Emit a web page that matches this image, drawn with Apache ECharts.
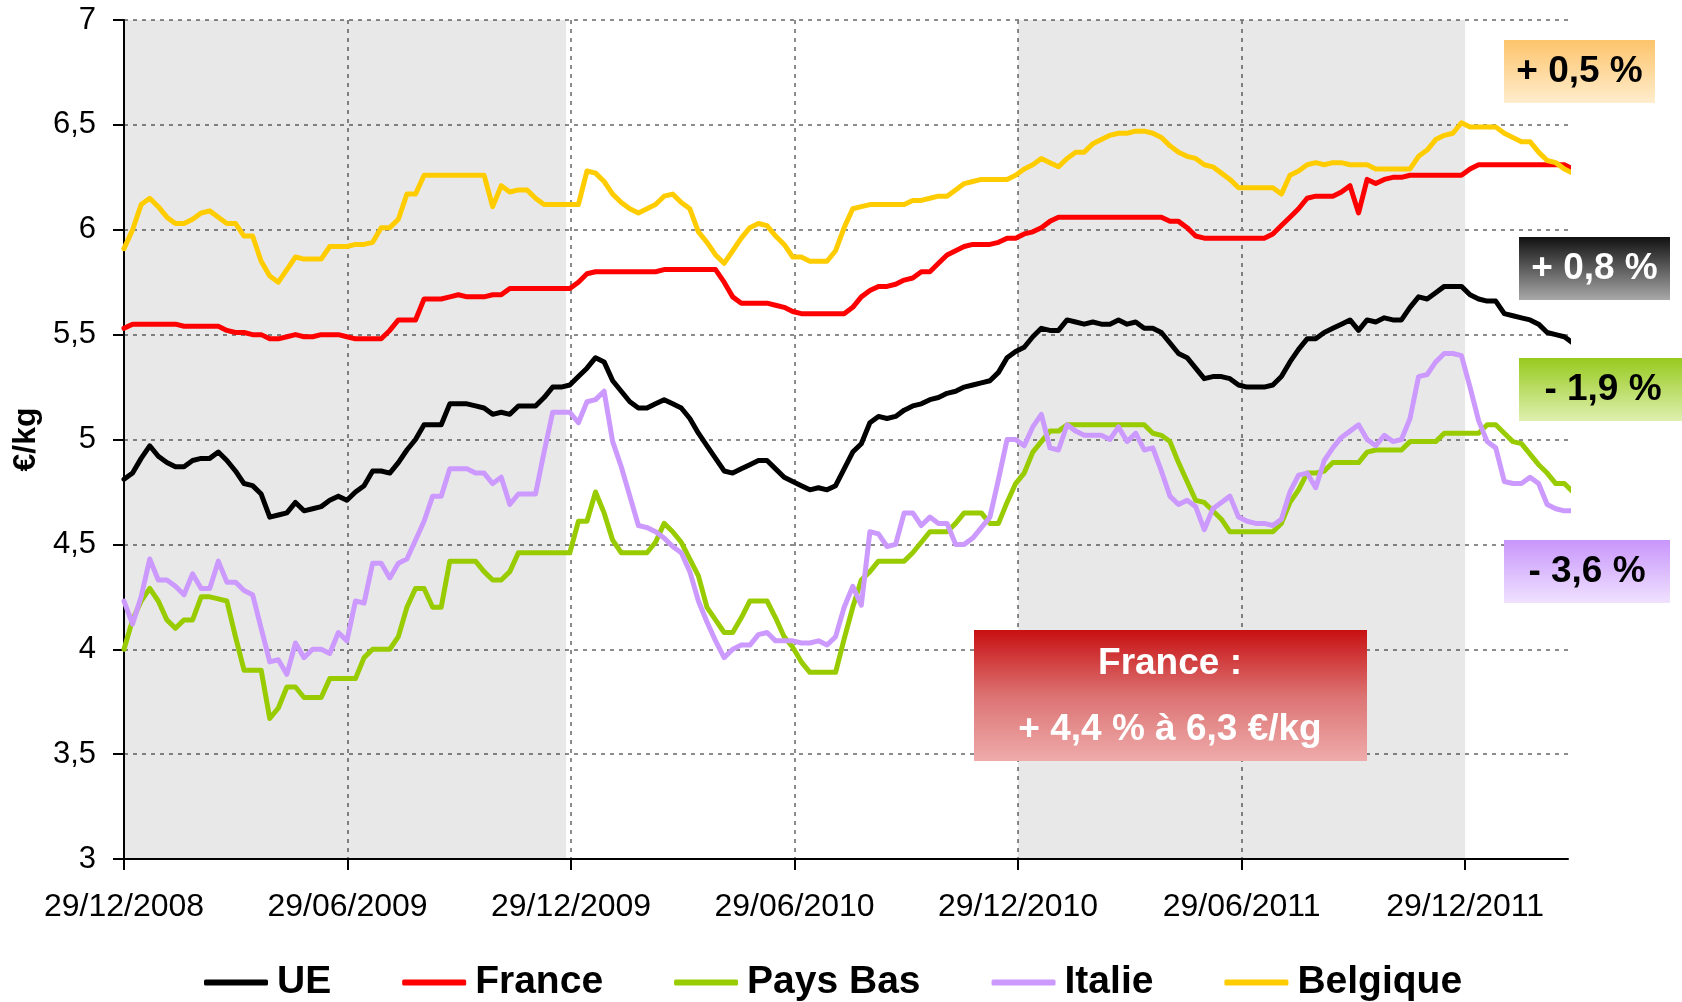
<!DOCTYPE html>
<html>
<head>
<meta charset="utf-8">
<title>Prix au kg</title>
<script src="https://cdn.jsdelivr.net/npm/echarts@6.0.0/dist/echarts.min.js"></script>
<style>
  html, body { margin: 0; padding: 0; background: #fff; }
  #container-main { width: 1682px; height: 1002px; }
</style>
</head>
<body>
<div id="container-main"></div>
<script>
// weekly prices in €/kg, first week = 29/12/2008
var ue = [
  4.81,4.84,4.91,4.97,4.92,4.89,4.87,4.87,4.90,4.91,
  4.91,4.94,4.90,4.85,4.79,4.78,4.74,4.63,4.64,4.65,
  4.70,4.66,4.67,4.68,4.71,4.73,4.71,4.75,4.78,4.85,
  4.85,4.84,4.89,4.95,5.00,5.07,5.07,5.07,5.17,5.17,
  5.17,5.16,5.15,5.12,5.13,5.12,5.16,5.16,5.16,5.20,
  5.25,5.25,5.26,5.30,5.34,5.39,5.37,5.28,5.23,5.18,
  5.15,5.15,5.17,5.19,5.17,5.15,5.10,5.03,4.97,4.91,
  4.85,4.84,4.86,4.88,4.90,4.90,4.86,4.82,4.80,4.78,
  4.76,4.77,4.76,4.78,4.86,4.94,4.98,5.08,5.11,5.10,
  5.11,5.14,5.16,5.17,5.19,5.20,5.22,5.23,5.25,5.26,
  5.27,5.28,5.32,5.39,5.42,5.44,5.49,5.53,5.52,5.52,
  5.57,5.56,5.55,5.56,5.55,5.55,5.57,5.55,5.56,5.53,
  5.53,5.51,5.46,5.41,5.39,5.34,5.29,5.30,5.30,5.29,
  5.26,5.25,5.25,5.25,5.26,5.30,5.37,5.43,5.48,5.48,
  5.51,5.53,5.55,5.57,5.52,5.57,5.56,5.58,5.57,5.57,
  5.63,5.68,5.67,5.70,5.73,5.73,5.73,5.69,5.67,5.66,
  5.66,5.60,5.59,5.58,5.57,5.55,5.51,5.50,5.49,5.46
];
var france = [
  5.53,5.55,5.55,5.55,5.55,5.55,5.55,5.54,5.54,5.54,
  5.54,5.54,5.52,5.51,5.51,5.50,5.50,5.48,5.48,5.49,
  5.50,5.49,5.49,5.50,5.50,5.50,5.49,5.48,5.48,5.48,
  5.48,5.52,5.57,5.57,5.57,5.67,5.67,5.67,5.68,5.69,
  5.68,5.68,5.68,5.69,5.69,5.72,5.72,5.72,5.72,5.72,
  5.72,5.72,5.72,5.75,5.79,5.80,5.80,5.80,5.80,5.80,
  5.80,5.80,5.80,5.81,5.81,5.81,5.81,5.81,5.81,5.81,
  5.75,5.68,5.65,5.65,5.65,5.65,5.64,5.63,5.61,5.60,
  5.60,5.60,5.60,5.60,5.60,5.63,5.68,5.71,5.73,5.73,
  5.74,5.76,5.77,5.80,5.80,5.84,5.88,5.90,5.92,5.93,
  5.93,5.93,5.94,5.96,5.96,5.98,5.99,6.01,6.04,6.06,
  6.06,6.06,6.06,6.06,6.06,6.06,6.06,6.06,6.06,6.06,
  6.06,6.06,6.04,6.04,6.01,5.97,5.96,5.96,5.96,5.96,
  5.96,5.96,5.96,5.96,5.98,6.02,6.06,6.10,6.15,6.16,
  6.16,6.16,6.18,6.21,6.08,6.24,6.22,6.24,6.25,6.25,
  6.26,6.26,6.26,6.26,6.26,6.26,6.26,6.29,6.31,6.31,
  6.31,6.31,6.31,6.31,6.31,6.31,6.31,6.31,6.31,6.29
];
var paysBas = [
  4.00,4.14,4.23,4.29,4.23,4.14,4.10,4.14,4.14,4.25,
  4.25,4.24,4.23,4.06,3.90,3.90,3.90,3.67,3.72,3.82,
  3.82,3.77,3.77,3.77,3.86,3.86,3.86,3.86,3.96,4.00,
  4.00,4.00,4.06,4.20,4.29,4.29,4.20,4.20,4.42,4.42,
  4.42,4.42,4.37,4.33,4.33,4.37,4.46,4.46,4.46,4.46,
  4.46,4.46,4.46,4.61,4.61,4.75,4.65,4.52,4.46,4.46,
  4.46,4.46,4.51,4.60,4.56,4.51,4.43,4.35,4.20,4.14,
  4.08,4.08,4.15,4.23,4.23,4.23,4.15,4.06,4.01,3.94,
  3.89,3.89,3.89,3.89,4.05,4.20,4.33,4.37,4.42,4.42,
  4.42,4.42,4.46,4.51,4.56,4.56,4.56,4.60,4.65,4.65,
  4.65,4.60,4.60,4.70,4.79,4.84,4.94,4.99,5.04,5.04,
  5.07,5.07,5.07,5.07,5.07,5.07,5.07,5.07,5.07,5.07,
  5.03,5.02,4.99,4.89,4.80,4.71,4.70,4.66,4.62,4.56,
  4.56,4.56,4.56,4.56,4.56,4.60,4.70,4.76,4.84,4.84,
  4.85,4.89,4.89,4.89,4.89,4.94,4.95,4.95,4.95,4.95,
  4.99,4.99,4.99,4.99,5.03,5.03,5.03,5.03,5.03,5.07,
  5.07,5.03,4.99,4.98,4.93,4.88,4.84,4.79,4.79,4.75
];
var italie = [
  4.23,4.12,4.25,4.43,4.33,4.33,4.30,4.26,4.36,4.29,
  4.29,4.42,4.32,4.32,4.28,4.26,4.10,3.94,3.95,3.88,
  4.03,3.96,4.00,4.00,3.98,4.08,4.04,4.23,4.22,4.41,
  4.41,4.34,4.41,4.43,4.52,4.61,4.73,4.73,4.86,4.86,
  4.86,4.84,4.84,4.79,4.82,4.69,4.74,4.74,4.74,4.94,
  5.13,5.13,5.13,5.08,5.18,5.19,5.23,4.99,4.87,4.73,
  4.59,4.58,4.56,4.53,4.49,4.46,4.37,4.23,4.13,4.04,
  3.96,4.00,4.02,4.02,4.07,4.08,4.04,4.04,4.04,4.03,
  4.03,4.04,4.02,4.06,4.20,4.30,4.21,4.56,4.55,4.49,
  4.50,4.65,4.65,4.59,4.63,4.60,4.60,4.50,4.50,4.53,
  4.58,4.63,4.81,5.00,5.00,4.97,5.06,5.12,4.96,4.95,
  5.07,5.04,5.02,5.02,5.02,5.00,5.06,4.99,5.03,4.95,
  4.96,4.85,4.73,4.69,4.71,4.68,4.57,4.67,4.70,4.73,
  4.63,4.61,4.60,4.60,4.59,4.62,4.75,4.83,4.84,4.77,
  4.90,4.96,5.01,5.04,5.07,5.00,4.97,5.02,4.99,5.00,
  5.10,5.30,5.31,5.37,5.41,5.41,5.40,5.25,5.09,4.99,
  4.96,4.80,4.79,4.79,4.82,4.79,4.69,4.67,4.66,4.66
];
var belgique = [
  5.91,6.00,6.12,6.15,6.11,6.06,6.03,6.03,6.05,6.08,
  6.09,6.06,6.03,6.03,5.97,5.97,5.85,5.78,5.75,5.81,
  5.87,5.86,5.86,5.86,5.92,5.92,5.92,5.93,5.93,5.94,
  6.01,6.01,6.05,6.17,6.17,6.26,6.26,6.26,6.26,6.26,
  6.26,6.26,6.26,6.11,6.21,6.18,6.19,6.19,6.15,6.12,
  6.12,6.12,6.12,6.12,6.28,6.27,6.23,6.17,6.13,6.10,
  6.08,6.10,6.12,6.16,6.17,6.13,6.10,5.99,5.94,5.88,
  5.84,5.90,5.96,6.01,6.03,6.02,5.97,5.93,5.87,5.87,
  5.85,5.85,5.85,5.90,6.01,6.10,6.11,6.12,6.12,6.12,
  6.12,6.12,6.14,6.14,6.15,6.16,6.16,6.19,6.22,6.23,
  6.24,6.24,6.24,6.24,6.26,6.29,6.31,6.34,6.32,6.30,
  6.34,6.37,6.37,6.41,6.43,6.45,6.46,6.46,6.47,6.47,
  6.46,6.44,6.40,6.37,6.35,6.34,6.31,6.30,6.27,6.24,
  6.20,6.20,6.20,6.20,6.20,6.17,6.26,6.28,6.31,6.32,
  6.31,6.32,6.32,6.31,6.31,6.31,6.29,6.29,6.29,6.29,
  6.29,6.35,6.38,6.43,6.45,6.46,6.51,6.49,6.49,6.49,
  6.49,6.46,6.44,6.42,6.42,6.37,6.33,6.32,6.29,6.27
];

var seriesNames = ['UE', 'France', 'Pays Bas', 'Italie', 'Belgique'];
var seriesColors = ['#000000', '#ff0000', '#99cc00', '#cc99ff', '#ffcc00'];

// x axis in days since 29/12/2008, ticks every half year
var tickDays = [0, 182.5, 365, 547.5, 730, 912.5, 1095];
var tickLabels = ['29/12/2008', '29/06/2009', '29/12/2009', '29/06/2010', '29/12/2010', '29/06/2011', '29/12/2011'];
// grey bands (days)
var bands = [[0, 361], [730, 1095]];

// change over the last year, shown on the right
var changeLabels = ['+ 0,5 %', '+ 0,8 %', '- 1,9 %', '- 3,6 %'];
var franceNote = ['France :', '+ 4,4 % à 6,3 €/kg'];

var FONT = '"Liberation Sans", Arial, sans-serif';

function toPoints(vals) {
  return vals.map(function (v, i) { return [i * 7, v]; });
}

function box(x, y, w, h, top, bottom, text, color, cx) {
  return {
    type: 'group',
    z: 100,
    children: [
      {
        type: 'rect',
        z: 100,
        shape: {x: x, y: y, width: w, height: h},
        style: {
          fill: {type: 'linear', x: 0, y: 0, x2: 0, y2: 1,
            colorStops: [{offset: 0, color: top}, {offset: 1, color: bottom}]}
        }
      },
      {
        type: 'text',
        z: 101,
        x: cx === undefined ? x + w / 2 : cx,
        y: y + h / 2,
        style: {
          text: text, fill: color, align: 'center', verticalAlign: 'middle',
          font: 'bold 37px ' + FONT
        }
      }
    ]
  };
}

function drawChart(element) {
  var dom = document.getElementById('container-' + element);
  var myChart = echarts.init(dom, null, {renderer: 'canvas'});
  var series = [];
  var lists = [ue, france, paysBas, italie, belgique];
  for (var i = 0; i < lists.length; i++) {
    series.push({
      name: seriesNames[i],
      type: 'line',
      data: toPoints(lists[i]),
      showSymbol: false,
      symbol: 'none',
      clip: false,
      color: seriesColors[i],
      lineStyle: {width: 5, color: seriesColors[i], join: 'round', cap: 'round'}
    });
  }
  series[0].markArea = {
    silent: true,
    itemStyle: {color: 'rgba(0,0,0,0.09)'},
    data: bands.map(function (b) { return [{xAxis: b[0]}, {xAxis: b[1]}]; })
  };

  var option = {
    animation: false,
    textStyle: {fontFamily: FONT},
    grid: {left: 124, right: 114, top: 20, bottom: 143},
    legend: {
      data: seriesNames,
      left: 199,
      top: 958,
      icon: 'roundRect',
      itemWidth: 64,
      itemHeight: 6,
      itemGap: 71,
      textStyle: {fontSize: 39, fontWeight: 'bold', color: '#000', fontFamily: FONT, padding: [0, 0, 0, 4]}
    },
    xAxis: {
      type: 'value',
      min: 0,
      max: 1179,
      interval: 182.5,
      axisLine: {show: true, lineStyle: {color: '#000', width: 2}},
      axisTick: {show: true, length: 11, customValues: tickDays, lineStyle: {color: '#000', width: 2}},
      axisLabel: {
        customValues: tickDays,
        margin: 32,
        fontSize: 32,
        color: '#000',
        fontFamily: FONT,
        formatter: function (v) {
          var k = Math.round(v / 182.5);
          if (Math.abs(v - k * 182.5) > 1) return '';
          return tickLabels[k] || '';
        }
      },
      splitLine: {
        show: true, showMinLine: false, showMaxLine: false,
        lineStyle: {color: '#8c8c8c', width: 2, type: [4, 5]}
      }
    },
    yAxis: {
      type: 'value',
      min: 3,
      max: 7,
      interval: 0.5,
      name: '€/kg',
      nameLocation: 'middle',
      nameRotate: 90,
      nameGap: 78,
      nameTextStyle: {fontSize: 32, fontWeight: 'bold', color: '#000', fontFamily: FONT},
      axisLine: {show: true, lineStyle: {color: '#000', width: 2}},
      axisTick: {show: true, length: 11, lineStyle: {color: '#000', width: 2}},
      axisLabel: {
        margin: 28,
        fontSize: 31,
        color: '#000',
        fontFamily: FONT,
        formatter: function (v) { return String(v).replace('.', ','); }
      },
      splitLine: {
        show: true, showMinLine: false,
        lineStyle: {color: '#8c8c8c', width: 2, type: [4, 5]}
      }
    },
    graphic: [
      box(1504, 40, 151, 63, '#fdc46c', '#ffedcd', changeLabels[0], '#000'),
      box(1519, 237, 151, 63, '#111111', '#a8a8a8', changeLabels[1], '#fff'),
      box(1519, 358, 170, 63, '#97ca1e', '#def0b0', changeLabels[2], '#000', 1603),
      box(1504, 540, 166, 63, '#c895fb', '#f0e2ff', changeLabels[3], '#000'),
      {
        type: 'group',
        z: 100,
        children: [
          {
            type: 'rect',
            z: 100,
            shape: {x: 974, y: 630, width: 393, height: 131},
            style: {
              fill: {type: 'linear', x: 0, y: 0, x2: 0, y2: 1,
                colorStops: [{offset: 0, color: '#c81012'}, {offset: 0.5, color: '#dc7272'}, {offset: 1, color: '#efabab'}]}
            }
          },
          {
            type: 'text', z: 101, x: 1170, y: 664,
            style: {text: franceNote[0], fill: '#fff', align: 'center', verticalAlign: 'middle', font: 'bold 37px ' + FONT}
          },
          {
            type: 'text', z: 101, x: 1170, y: 730,
            style: {text: franceNote[1], fill: '#fff', align: 'center', verticalAlign: 'middle', font: 'bold 37px ' + FONT}
          }
        ]
      }
    ],
    series: series
  };
  myChart.setOption(option, true);
}

drawChart('main');
</script>
</body>
</html>
